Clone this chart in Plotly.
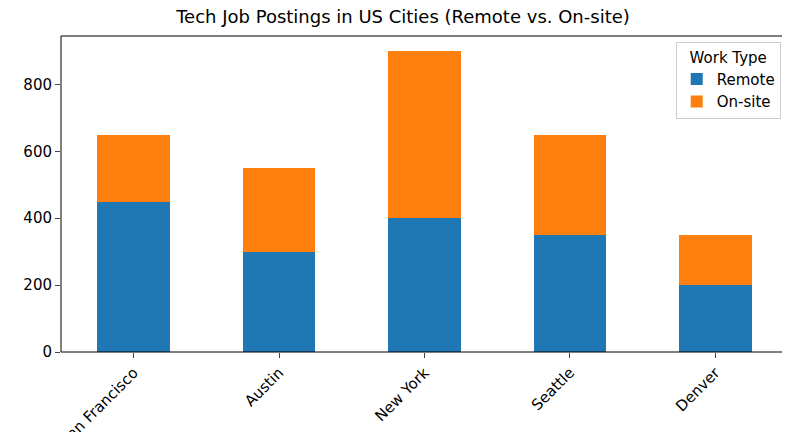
import plotly.graph_objects as go

cities = ['San Francisco', 'Austin', 'New York', 'Seattle', 'Denver']
remote = [450, 300, 400, 350, 200]
onsite = [200, 250, 500, 300, 150]

fig = go.Figure()
fig.add_trace(go.Bar(name='Remote', x=cities, y=remote, marker_color='#1f77b4', marker_line_width=0))
fig.add_trace(go.Bar(name='On-site', x=cities, y=onsite, marker_color='#ff7f0e', marker_line_width=0))

fig.update_layout(
    barmode='stack', bargap=0.5,
    width=790, height=432,
    margin=dict(l=53, r=10, t=28, b=88, autoexpand=False),
    paper_bgcolor='white', plot_bgcolor='white',
    font=dict(family='DejaVu Sans', size=15, color='black'),
    title=dict(text='Tech Job Postings in US Cities (Remote vs. On-site)', x=0.5, xanchor='center',
               y=0.995, yanchor='top', font=dict(size=18)),
    legend=dict(title=dict(text='Work Type', side='top center', font=dict(size=15)), x=0.99, y=0.98,
                xanchor='right', yanchor='top', traceorder='normal',
                bordercolor='#cccccc', borderwidth=1, bgcolor='white', font=dict(size=15)),
    showlegend=True,
)
fig.add_shape(type='rect', xref='paper', yref='paper', x0=0, y0=0, x1=1, y1=1,
              line=dict(color='black', width=1))
fig.update_xaxes(ticks='outside', tickangle=-45, automargin=False,
                 range=[-0.5, 4.5], tickfont=dict(size=15))
fig.update_yaxes(ticks='outside', showgrid=False, automargin=False,
                 range=[0, 945], tickvals=[0, 200, 400, 600, 800], zeroline=False, tickfont=dict(size=15))

fig.write_html("out.html")
